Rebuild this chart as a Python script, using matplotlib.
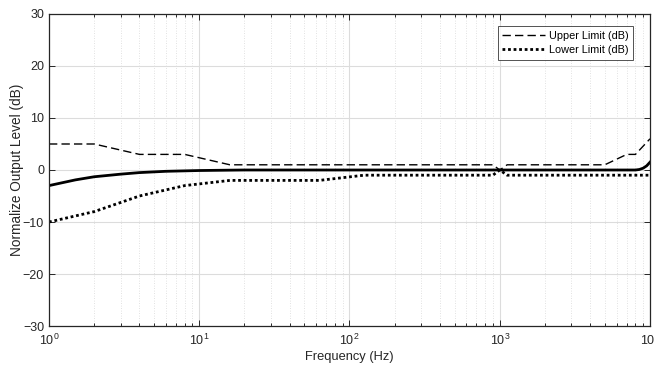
import numpy as np
import matplotlib
matplotlib.use("Agg")
import matplotlib.pyplot as plt
from matplotlib.ticker import LogLocator, NullFormatter

plt.rcParams['font.family'] = ['Liberation Sans', 'DejaVu Sans']
plt.rcParams['mathtext.fontset'] = 'custom'
plt.rcParams['mathtext.rm'] = 'Liberation Sans'
plt.rcParams['mathtext.it'] = 'Liberation Sans:italic'

# tolerance limits (Hz, dB)
upper_freq = [1, 2, 4, 8, 16, 900, 1000, 1120, 5000, 7000, 8000, 10000]
upper_db = [5, 5, 3, 3, 1, 1, 0, 1, 1, 3, 3, 6]

lower_freq = [1, 2, 4, 8, 16, 63, 125, 900, 1000, 1120, 10000]
lower_db = [-10, -8, -5, -3, -2, -2, -1, -1, 0, -1, -1]

# measured response
resp_freq = [1, 1.5, 2, 3, 4, 6, 10, 20, 100, 1000, 8000, 8500, 9000, 9500, 10000]
resp_db = [-3, -1.9, -1.3, -0.8, -0.5, -0.25, -0.1, 0, 0, 0, 0, 0.1, 0.35, 0.8, 1.5]

fig = plt.figure(figsize=(6.54, 3.68), dpi=100)
ax = fig.add_axes([0.0749, 0.1141, 0.9190, 0.8479])

ax.semilogx(resp_freq, resp_db, color='black', linewidth=2.0)
ax.semilogx(upper_freq, upper_db, color='black', linestyle=(0, (6, 3)), linewidth=1.0,
            label='Upper Limit (dB)')
ax.semilogx(lower_freq, lower_db, color='black', linestyle=(0, (1, 1)), linewidth=2.0,
            label='Lower Limit (dB)')

ax.set_xlim(1, 1e4)
ax.set_ylim(-30, 30)
ax.set_yticks([-30, -20, -10, 0, 10, 20, 30])
ax.xaxis.set_major_locator(LogLocator(base=10, numticks=10))
ax.xaxis.set_minor_locator(LogLocator(base=10, subs=np.arange(2, 10), numticks=10))
ax.xaxis.set_minor_formatter(NullFormatter())

ax.grid(True, which='major', color='#dcdcdc', linewidth=0.8)
ax.grid(True, which='minor', axis='x', color='#d8d8d8', linestyle=(0, (1, 2)), linewidth=0.6)
ax.set_axisbelow(True)

ax.tick_params(which='both', direction='in', top=True, right=True, labelsize=9,
               colors='#262626', width=0.7)
ax.tick_params(which='major', length=4)
ax.tick_params(which='minor', length=2.5)
ax.tick_params(axis='x', pad=5)
for s in ax.spines.values():
    s.set_linewidth(0.9)
    s.set_color('#262626')

ax.set_xlabel('Frequency (Hz)', fontsize=9.3, color='#262626', labelpad=2)
ax.set_ylabel('Normalize Output Level (dB)', fontsize=9.8, color='#262626', labelpad=-1)

leg = ax.legend(loc='upper right', fontsize=7.8, frameon=True, fancybox=False,
                edgecolor='#262626', handlelength=3.9, borderpad=0.45,
                labelspacing=0.35, handletextpad=0.35, borderaxespad=0,
                bbox_to_anchor=(0.9717, 0.9615))
leg.get_frame().set_linewidth(0.7)

fig.savefig('out.png', dpi=100)
